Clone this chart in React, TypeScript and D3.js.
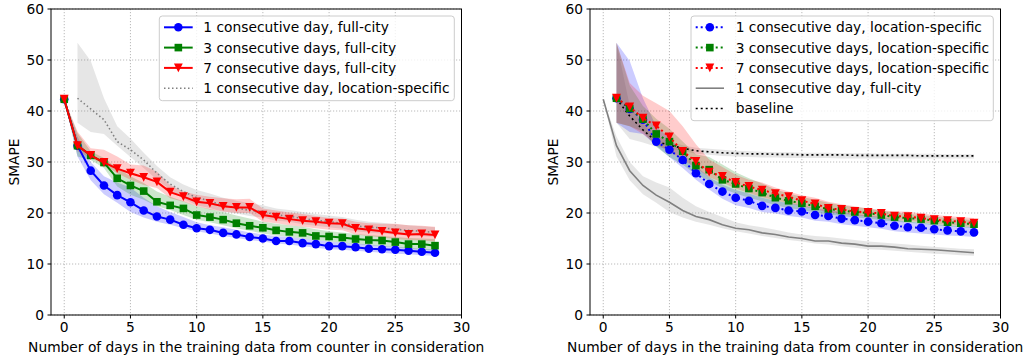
import React, { useEffect, useRef } from 'react';
import * as d3 from 'd3';

// x values
const DAYS = [0, 1, 2, 3, 4, 5, 6, 7, 8, 9, 10, 11, 12, 13, 14, 15, 16, 17, 18, 19, 20, 21, 22, 23, 24, 25, 26, 27, 28];
const DAYS_LS = DAYS.slice(1);

const X_TICKS = [0, 5, 10, 15, 20, 25, 30];
const Y_TICKS = [0, 10, 20, 30, 40, 50, 60];

// full-city models (x = 0..28)
const FC1 = [42.3, 33.2, 28.3, 25.4, 23.5, 22.1, 20.5, 19.3, 18.7, 17.7, 17.0, 16.7, 16.1, 15.8, 15.3, 15.0, 14.5, 14.5, 14.1, 13.9, 13.5, 13.5, 13.3, 13.0, 12.9, 12.8, 12.6, 12.4, 12.2];
const FC1_HI = [42.3, 35.0, 30.0, 27.2, 26.0, 25.0, 23.0, 21.3, 20.2, 19.2, 18.2, 17.6, 17.2, 16.7, 16.2, 15.8, 15.5, 15.3, 15.0, 14.7, 14.4, 14.2, 14.0, 13.8, 13.6, 13.4, 13.2, 13.0, 12.9];
const FC1_LO = [42.3, 31.1, 26.4, 23.7, 22.0, 20.2, 19.1, 18.3, 17.7, 17.0, 16.4, 16.0, 15.5, 15.1, 14.7, 14.4, 14.0, 13.8, 13.5, 13.2, 12.9, 12.8, 12.6, 12.4, 12.2, 12.0, 11.9, 11.7, 11.6];

const FC3 = [42.3, 33.2, 31.3, 29.9, 26.8, 25.4, 24.3, 22.2, 21.5, 20.9, 19.6, 19.2, 18.7, 18.0, 17.5, 17.1, 16.6, 16.3, 16.1, 15.5, 15.4, 15.2, 14.9, 14.7, 14.6, 14.3, 13.9, 13.9, 13.6];
const FC3_HI = [42.3, 35.7, 32.1, 30.8, 28.8, 27.2, 25.9, 24.2, 23.2, 22.3, 21.3, 20.8, 20.2, 19.5, 18.9, 18.3, 17.9, 17.6, 17.3, 16.8, 16.4, 16.2, 15.9, 15.7, 15.5, 15.3, 15.1, 15.0, 14.9];
const FC3_LO = [42.3, 31.1, 30.4, 28.8, 25.2, 23.6, 22.6, 21.3, 20.6, 19.6, 18.7, 18.2, 17.6, 17.0, 16.5, 16.0, 15.6, 15.3, 15.0, 14.7, 14.4, 14.2, 13.9, 13.7, 13.5, 13.3, 13.0, 12.8, 12.6];

const FC7 = [42.3, 33.2, 31.3, 29.9, 28.7, 27.8, 27.0, 26.1, 24.1, 23.2, 22.2, 21.9, 21.3, 21.1, 21.1, 19.6, 19.2, 18.8, 18.5, 18.3, 18.0, 17.9, 17.0, 16.7, 16.4, 16.1, 15.8, 15.9, 15.7];
const FC7_HI = [42.3, 36.0, 32.7, 32.4, 31.1, 29.5, 29.3, 28.1, 25.5, 24.2, 23.6, 23.2, 22.9, 22.7, 22.8, 20.9, 20.5, 20.1, 19.8, 19.4, 19.0, 18.9, 18.3, 18.0, 17.9, 17.9, 17.6, 17.5, 17.3];
const FC7_LO = [42.3, 32.1, 30.8, 29.5, 27.8, 26.5, 25.5, 24.9, 22.9, 22.2, 21.3, 20.7, 20.3, 20.0, 20.0, 18.3, 18.0, 17.6, 17.3, 17.0, 16.7, 16.6, 15.8, 15.5, 15.2, 14.9, 14.7, 14.6, 14.4];

// location-specific models (x = 1..28)
const LS1 = [42.5, 40.4, 38.3, 34.0, 32.4, 30.4, 27.8, 25.7, 24.2, 23.0, 22.4, 21.4, 21.0, 20.5, 20.3, 19.6, 19.4, 18.9, 18.6, 18.3, 18.0, 17.5, 17.2, 17.1, 16.8, 16.6, 16.4, 16.2];
const LS1_HI = [53.4, 49.8, 42.5, 37.0, 34.6, 31.8, 29.2, 27.0, 25.6, 24.5, 23.8, 23.0, 22.4, 21.9, 21.5, 20.9, 20.6, 20.2, 19.8, 19.5, 19.2, 18.7, 18.3, 18.1, 17.8, 17.6, 17.4, 17.2];
const LS1_LO = [37.7, 35.9, 35.5, 33.2, 31.0, 28.8, 26.5, 24.6, 22.8, 21.5, 21.0, 20.2, 19.9, 19.4, 19.1, 18.5, 18.3, 17.8, 17.5, 17.2, 16.9, 16.4, 16.2, 16.0, 15.8, 15.6, 15.5, 15.3];

const LS3 = [42.5, 40.5, 38.4, 35.5, 34.0, 32.1, 29.3, 28.5, 26.5, 25.7, 24.8, 24.0, 23.0, 22.4, 21.9, 21.3, 20.8, 20.5, 20.2, 20.0, 19.6, 19.2, 19.0, 18.8, 18.5, 18.2, 18.0, 17.8];
const LS3_HI = [53.4, 45.0, 41.0, 38.5, 36.5, 34.0, 31.5, 31.0, 29.5, 28.0, 26.8, 25.8, 24.6, 23.8, 23.2, 22.6, 22.0, 21.5, 21.2, 20.9, 20.5, 20.1, 19.8, 19.6, 19.3, 19.0, 18.8, 18.6];
const LS3_LO = [37.7, 37.0, 36.0, 33.0, 31.0, 29.5, 27.5, 26.3, 24.8, 23.8, 23.0, 22.3, 21.5, 21.0, 20.6, 20.1, 19.7, 19.4, 19.1, 18.9, 18.6, 18.3, 18.1, 17.9, 17.6, 17.4, 17.2, 17.0];

const LS7 = [42.5, 40.8, 38.6, 37.1, 34.9, 32.1, 30.1, 28.0, 27.2, 26.0, 25.2, 24.5, 23.8, 23.2, 22.4, 21.8, 20.9, 20.7, 20.3, 20.1, 19.9, 19.4, 19.3, 19.0, 18.7, 18.5, 18.3, 18.0];
const LS7_HI = [53.4, 45.5, 43.0, 41.5, 40.0, 37.0, 33.5, 30.5, 29.0, 27.5, 26.5, 26.0, 25.0, 24.2, 23.5, 23.0, 22.2, 21.7, 21.3, 20.9, 20.6, 20.3, 20.3, 19.9, 19.6, 19.4, 19.2, 19.0];
const LS7_LO = [37.7, 37.0, 35.5, 33.5, 32.0, 30.5, 28.8, 27.0, 26.0, 24.8, 23.9, 23.1, 22.5, 21.9, 21.3, 20.8, 20.1, 19.9, 19.5, 19.3, 19.0, 18.6, 18.5, 18.2, 17.9, 17.7, 17.5, 17.2];

const BASE = [42.4, 39.0, 36.3, 34.0, 33.3, 32.7, 32.2, 32.0, 31.8, 31.7, 31.6, 31.6, 31.5, 31.5, 31.4, 31.4, 31.4, 31.4, 31.3, 31.3, 31.3, 31.3, 31.3, 31.2, 31.2, 31.2, 31.2, 31.2];
const BASE_HI = [53.4, 41.0, 37.5, 35.0, 34.0, 33.3, 32.8, 32.6, 32.4, 32.2, 32.1, 32.0, 31.9, 31.9, 31.8, 31.8, 31.8, 31.7, 31.7, 31.7, 31.6, 31.6, 31.6, 31.6, 31.6, 31.5, 31.5, 31.5];
const BASE_LO = [37.7, 34.5, 33.8, 33.0, 32.5, 32.2, 31.6, 31.4, 31.2, 31.1, 31.0, 30.9, 30.9, 30.8, 30.8, 30.8, 30.8, 30.7, 30.7, 30.7, 30.7, 30.7, 30.7, 30.7, 30.7, 30.7, 30.7, 30.7];

const FONT = 'DejaVu Sans, sans-serif';
const FS = 13.8;

const BLUE = '#0000ff';
const GREEN = '#008000';
const RED = '#ff0000';
const GRAY = '#808080';

type Series = {
  x: number[];
  y: number[];
  lo: number[];
  hi: number[];
  color: string;
  band: string;
  dash: string | null;
  marker: 'o' | 's' | 'v' | null;
  label: string;
};

const leftSeries: Series[] = [
  { x: DAYS_LS, y: LS1, lo: LS1_LO, hi: LS1_HI, color: GRAY, band: GRAY, dash: '1.5,2.5', marker: null, label: '1 consecutive day, location-specific' },
  { x: DAYS, y: FC1, lo: FC1_LO, hi: FC1_HI, color: BLUE, band: BLUE, dash: null, marker: 'o', label: '1 consecutive day, full-city' },
  { x: DAYS, y: FC3, lo: FC3_LO, hi: FC3_HI, color: GREEN, band: GREEN, dash: null, marker: 's', label: '3 consecutive days, full-city' },
  { x: DAYS, y: FC7, lo: FC7_LO, hi: FC7_HI, color: RED, band: RED, dash: null, marker: 'v', label: '7 consecutive days, full-city' },
];
const leftLegendOrder = [1, 2, 3, 0];

const rightSeries: Series[] = [
  { x: DAYS, y: FC1, lo: FC1_LO, hi: FC1_HI, color: GRAY, band: GRAY, dash: null, marker: null, label: '1 consecutive day, full-city' },
  { x: DAYS_LS, y: BASE, lo: BASE_LO, hi: BASE_HI, color: '#000000', band: GRAY, dash: '2,3', marker: null, label: 'baseline' },
  { x: DAYS_LS, y: LS1, lo: LS1_LO, hi: LS1_HI, color: BLUE, band: BLUE, dash: '2,3', marker: 'o', label: '1 consecutive day, location-specific' },
  { x: DAYS_LS, y: LS3, lo: LS3_LO, hi: LS3_HI, color: GREEN, band: GREEN, dash: '2,3', marker: 's', label: '3 consecutive days, location-specific' },
  { x: DAYS_LS, y: LS7, lo: LS7_LO, hi: LS7_HI, color: RED, band: RED, dash: '2,3', marker: 'v', label: '7 consecutive days, location-specific' },
];
const rightLegendOrder = [2, 3, 4, 0, 1];

const drawMarker = (g: any, kind: string, cx: number, cy: number, color: string) => {
  if (kind === 'o') {
    g.append('circle').attr('cx', cx).attr('cy', cy).attr('r', 4.3).attr('fill', color);
  } else if (kind === 's') {
    g.append('rect').attr('x', cx - 3.8).attr('y', cy - 3.8).attr('width', 7.6).attr('height', 7.6).attr('fill', color);
  } else if (kind === 'v') {
    const s = 4.4;
    g.append('path').attr('d', `M${cx - s},${cy - s}L${cx + s},${cy - s}L${cx},${cy + s}Z`).attr('fill', color);
  }
};

const drawPanel = (svg: any, left: number, right: number, series: Series[], order: number[], legend: any) => {
  const top = 9;
  const bottom = 315;
  const x = d3.scaleLinear().domain([-1, 30]).range([left, right]);
  const y = d3.scaleLinear().domain([0, 60]).range([bottom, top]);
  const g = svg.append('g');

  // grid
  X_TICKS.forEach((t) => {
    g.append('line').attr('x1', x(t)).attr('x2', x(t)).attr('y1', top).attr('y2', bottom)
      .attr('stroke', '#a8a8a8').attr('stroke-width', 0.8).attr('stroke-dasharray', '1.2,1.8');
  });
  Y_TICKS.forEach((t) => {
    g.append('line').attr('x1', left).attr('x2', right).attr('y1', y(t)).attr('y2', y(t))
      .attr('stroke', '#a8a8a8').attr('stroke-width', 0.8).attr('stroke-dasharray', '1.2,1.8');
  });

  // bands
  series.forEach((s) => {
    const area = d3.area<number>()
      .x((_, i) => x(s.x[i]))
      .y0((_, i) => y(s.lo[i]))
      .y1((_, i) => y(s.hi[i]));
    g.append('path').attr('d', area(s.y)).attr('fill', s.band).attr('fill-opacity', 0.2);
  });

  // lines + markers
  series.forEach((s) => {
    const line = d3.line<number>().x((_, i) => x(s.x[i])).y((d) => y(d));
    g.append('path').attr('d', line(s.y)).attr('fill', 'none').attr('stroke', s.color)
      .attr('stroke-width', s.marker ? 2 : 1.6)
      .attr('stroke-dasharray', s.dash || null);
    if (s.marker) {
      s.y.forEach((v, i) => drawMarker(g, s.marker as string, x(s.x[i]), y(v), s.color));
    }
  });

  // spines
  g.append('rect').attr('x', left).attr('y', top).attr('width', right - left).attr('height', bottom - top)
    .attr('fill', 'none').attr('stroke', '#000').attr('stroke-width', 1);

  // ticks
  X_TICKS.forEach((t) => {
    g.append('line').attr('x1', x(t)).attr('x2', x(t)).attr('y1', bottom).attr('y2', bottom + 3.5).attr('stroke', '#000');
    g.append('text').attr('x', x(t)).attr('y', bottom + 6.5).attr('dy', '0.76em').attr('text-anchor', 'middle')
      .attr('font-family', FONT).attr('font-size', FS).text(t);
  });
  Y_TICKS.forEach((t) => {
    g.append('line').attr('x1', left - 3.5).attr('x2', left).attr('y1', y(t)).attr('y2', y(t)).attr('stroke', '#000');
    g.append('text').attr('x', left - 7).attr('y', y(t)).attr('dy', '0.36em').attr('text-anchor', 'end')
      .attr('font-family', FONT).attr('font-size', FS).text(t);
  });

  // axis labels
  g.append('text').attr('x', (left + right) / 2).attr('y', 351.5).attr('text-anchor', 'middle')
    .attr('font-family', FONT).attr('font-size', FS).text('Number of days in the training data from counter in consideration');
  g.append('text').attr('transform', `translate(${left - 32},${(top + bottom) / 2}) rotate(-90)`)
    .attr('text-anchor', 'middle').attr('font-family', FONT).attr('font-size', FS).text('SMAPE');

  // legend
  const lg = g.append('g');
  lg.append('rect').attr('x', legend.x0).attr('y', legend.y0).attr('width', legend.x1 - legend.x0)
    .attr('height', legend.y1 - legend.y0).attr('rx', 3).attr('fill', '#fff').attr('fill-opacity', 0.8)
    .attr('stroke', '#cccccc').attr('stroke-width', 1);
  order.forEach((idx, k) => {
    const s = series[idx];
    const cy = legend.y0 + 11.3 + k * 20.3;
    lg.append('line').attr('x1', legend.lx0).attr('x2', legend.lx1).attr('y1', cy).attr('y2', cy)
      .attr('stroke', s.color).attr('stroke-width', s.marker ? 2 : 1.6).attr('stroke-dasharray', s.dash || null);
    if (s.marker) drawMarker(lg, s.marker, (legend.lx0 + legend.lx1) / 2, cy, s.color);
    lg.append('text').attr('x', legend.tx).attr('y', cy).attr('dy', '0.36em')
      .attr('font-family', FONT).attr('font-size', FS).text(s.label);
  });
};

const App = () => {
  const ref = useRef<SVGSVGElement>(null);

  useEffect(() => {
    const svg = d3.select(ref.current);
    svg.selectAll('*').remove();
    drawPanel(svg, 51, 461.5, leftSeries, leftLegendOrder, { x0: 159.3, x1: 454.3, y0: 16, y1: 100.7, lx0: 164, lx1: 192.7, tx: 203.3 });
    drawPanel(svg, 590, 1000.5, rightSeries, rightLegendOrder, { x0: 691, x1: 993.3, y0: 16, y1: 120.7, lx0: 695.7, lx1: 724, tx: 735.7 });
  }, []);

  return (
    <svg ref={ref} width={1027} height={356} style={{ position: 'absolute', left: 0, top: 0, background: '#fff' }} />
  );
};

export default App;
